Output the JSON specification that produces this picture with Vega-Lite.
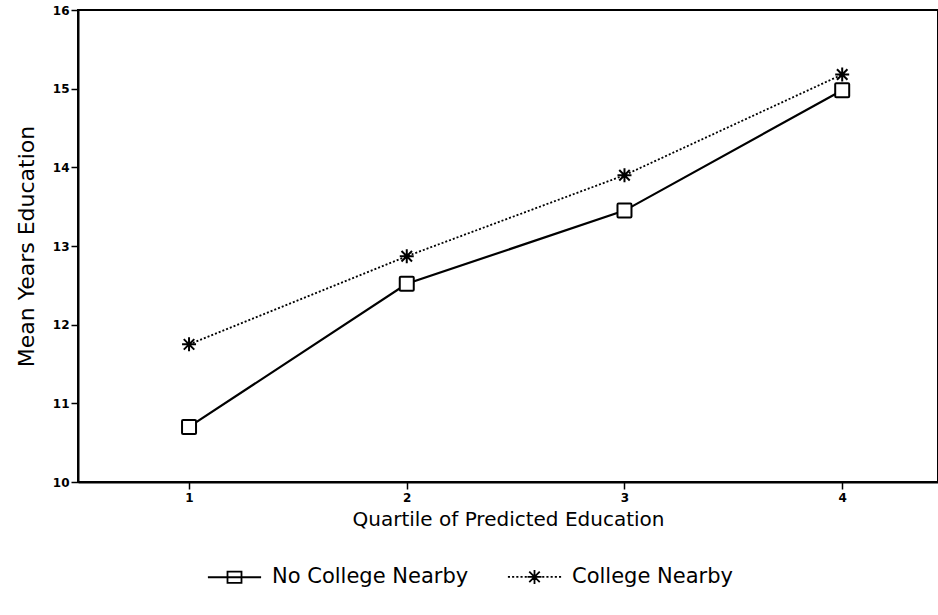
{
  "$schema": "https://vega.github.io/schema/vega-lite/v6.json",
  "autosize": "none",
  "padding": {"left": 78, "top": 10, "right": 0, "bottom": 133},
  "width": 860,
  "height": 472,
  "background": "white",
  "config": {
    "font": "DejaVu Sans",
    "view": {"stroke": "black", "strokeWidth": 2},
    "axis": {"grid": false, "domainColor": "black", "domainWidth": 2, "tickColor": "black", "tickWidth": 1.5, "labelColor": "black", "titleColor": "black", "labelFontWeight": "bold", "labelFontSize": 12, "titleFontWeight": "normal", "titleFontSize": 20},
    "legend": {
      "title": null, "orient": "none", "direction": "horizontal", "legendX": 146, "legendY": 556,
      "symbolSize": 196, "symbolStrokeWidth": 1.8, "symbolStrokeColor": "black", "symbolFillColor": "transparent", "symbolOpacity": 1,
      "labelFontSize": 21, "labelColor": "black", "labelOffset": 27, "labelLimit": 0, "columnPadding": 35
    }
  },
  "data": {"values": [
    {"quartile": 1, "education": 10.70, "series": "No College Nearby"},
    {"quartile": 2, "education": 12.52, "series": "No College Nearby"},
    {"quartile": 3, "education": 13.45, "series": "No College Nearby"},
    {"quartile": 4, "education": 14.98, "series": "No College Nearby"},
    {"quartile": 1, "education": 11.75, "series": "College Nearby"},
    {"quartile": 2, "education": 12.87, "series": "College Nearby"},
    {"quartile": 3, "education": 13.90, "series": "College Nearby"},
    {"quartile": 4, "education": 15.18, "series": "College Nearby"}
  ]},
  "encoding": {
    "x": {"field": "quartile", "type": "quantitative", "scale": {"domain": [0.49, 4.44], "nice": false, "zero": false},
      "axis": {"values": [1, 2, 3, 4], "format": "d", "title": "Quartile of Predicted Education", "tickSize": 7, "labelPadding": 3, "titlePadding": 6}},
    "y": {"field": "education", "type": "quantitative", "scale": {"domain": [10, 16], "nice": false, "zero": false},
      "axis": {"values": [10, 11, 12, 13, 14, 15, 16], "title": "Mean Years Education", "titleFontSize": 22, "tickSize": 7, "labelPadding": 2, "titlePadding": 14}}
  },
  "layer": [
    {
      "transform": [{"filter": "datum.series === 'No College Nearby'"}],
      "mark": {"type": "line", "color": "black", "strokeWidth": 2.2},
      "encoding": {}
    },
    {
      "transform": [{"filter": "datum.series === 'College Nearby'"}],
      "mark": {"type": "line", "color": "black", "strokeWidth": 1.8, "strokeDash": [2, 2]},
      "encoding": {}
    },
    {
      "transform": [{"filter": "datum.series === 'No College Nearby'"}],
      "mark": {"type": "point", "filled": false, "color": "black", "strokeWidth": 2, "opacity": 1, "size": 196, "fill": "white", "fillOpacity": 1,
        "shape": "M-1,-0.85Q-1,-1,-0.85,-1H0.85Q1,-1,1,-0.85V0.85Q1,1,0.85,1H-0.85Q-1,1,-1,0.85Z"}
    },
    {
      "transform": [{"filter": "datum.series === 'College Nearby'"}],
      "mark": {"type": "point", "filled": false, "color": "black", "strokeWidth": 2, "opacity": 1, "size": 196,
        "shape": "M-1,0H1M0,-1V1M-0.75,-0.75L0.75,0.75M-0.75,0.75L0.75,-0.75"}
    },
    {
      "mark": {"type": "point", "filled": false, "color": "black", "strokeWidth": 1.8, "opacity": 0, "size": 196},
      "encoding": {
        "shape": {"field": "series", "type": "nominal",
          "scale": {"domain": ["No College Nearby", "College Nearby"], "range": [
            "M-3.8,0H-1M1,0H3.8M-1,-0.8H1V0.8H-1ZM-1,0H1",
            "M-3.8,0H-3.5M-3.2,0H-2.9M-2.6,0H-2.3M-2,0H-1.7M-1.4,0H-1.1M1.1,0H1.4M1.7,0H2M2.3,0H2.6M2.9,0H3.2M3.5,0H3.8M-1,0H1M0,-1V1M-0.75,-0.75L0.75,0.75M-0.75,0.75L0.75,-0.75"
          ]},
          "legend": {"symbolOpacity": 1}
        }
      }
    }
  ]
}
